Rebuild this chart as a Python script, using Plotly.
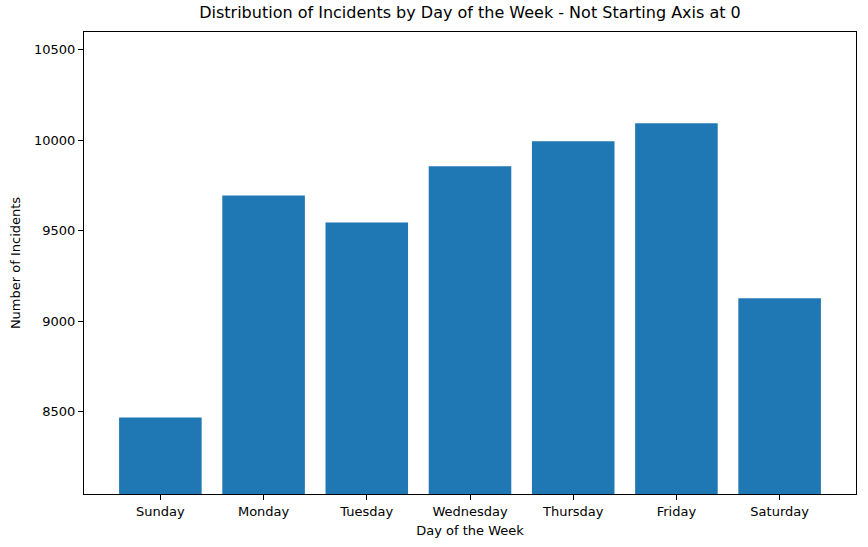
import plotly.graph_objects as go

days = ["Sunday", "Monday", "Tuesday", "Wednesday", "Thursday", "Friday", "Saturday"]
incidents = [8468, 9695, 9546, 9856, 9995, 10094, 9127]
y_ticks = [8500, 9000, 9500, 10000, 10500]

ymin = min(incidents) * 0.95
ymax = max(incidents) * 1.05

fig = go.Figure(go.Bar(x=list(range(len(days))), y=incidents, marker_color="#1f77b4",
                       marker_line_width=0, width=0.8))

fig.update_layout(
    width=868, height=547,
    margin=dict(l=84, r=12, t=32, b=53, autoexpand=False),
    plot_bgcolor="white", paper_bgcolor="white",
    font=dict(family="DejaVu Sans", size=13, color="black"),
    title=dict(text="Distribution of Incidents by Day of the Week - Not Starting Axis at 0",
               x=0.5, xanchor="center", xref="paper", y=1 - 12/547, yanchor="middle",
               font=dict(size=16), automargin=False),
    showlegend=False,
    bargap=0.2,
)
fig.update_xaxes(
    tickmode="array", tickvals=list(range(len(days))), ticktext=days,
    range=[-0.74, 6.74], showline=True, linecolor="black", linewidth=1, mirror=True,
    ticks="outside", ticklen=5, tickcolor="black", showgrid=False, zeroline=False,
    automargin=False,
    title=dict(text="Day of the Week", font=dict(size=13), standoff=8),
)
fig.update_yaxes(
    range=[ymin, ymax], tickvals=y_ticks, ticktext=[str(v) for v in y_ticks],
    showline=True, linecolor="black", linewidth=1, mirror=True,
    ticks="outside", ticklen=5, tickcolor="black", showgrid=False, zeroline=False,
    automargin=False,
    title=dict(text="Number of Incidents", font=dict(size=13), standoff=10),
)
fig.write_html("out.html", config={"displayModeBar": False},
               post_script="document.body.style.margin='0';document.body.style.overflow='hidden';")
